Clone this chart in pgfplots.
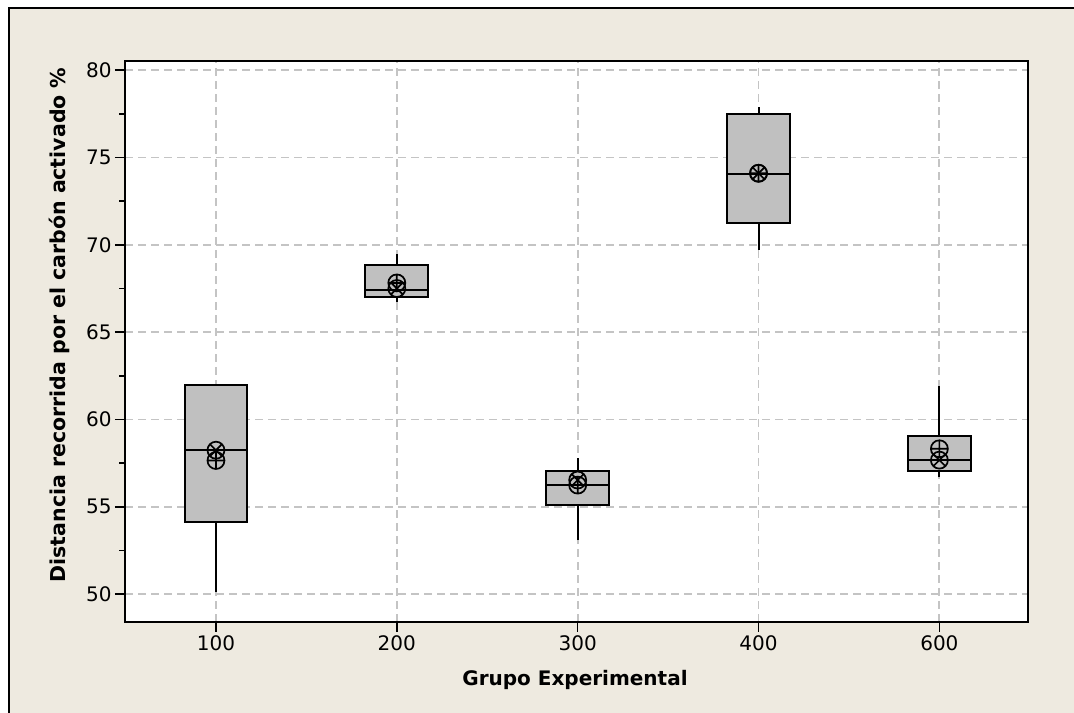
\documentclass[border=0pt]{standalone}
\usepackage{pgfplots}
\pgfplotsset{compat=1.18}
\usepackage{fontspec}
\setmainfont{DejaVu Sans}
\definecolor{bg}{RGB}{238,234,224}
\definecolor{boxgray}{RGB}{192,192,192}
\definecolor{gridgray}{RGB}{196,196,196}
\begin{document}
\begin{tikzpicture}
\useasboundingbox (0,0) rectangle (1074bp,713bp);
\fill[white] (0,0) rectangle (1074bp,713bp);
\draw[line width=2bp, fill=bg] (9bp,-20bp) rectangle (1090bp,705bp);
\begin{axis}[
  at={(125bp,91bp)}, anchor=south west,
  scale only axis, width=903bp, height=561bp,
  xmin=0.497, xmax=5.49, ymin=48.40, ymax=80.53,
  axis background/.style={fill=white},
  axis line style={line width=2bp},
  xtick={1,2,3,4,5}, xticklabels={100,200,300,400,600},
  ytick={50,55,60,65,70,75,80},
  minor ytick={52.5,57.5,62.5,67.5,72.5,77.5},
  tick pos=left, tick align=outside,
  major tick length=10bp, minor tick length=6bp,
  tick style={line width=1.5bp, black},
  grid=major,
  major grid style={gridgray, line width=1.8bp, dash pattern=on 8bp off 5bp},
  /pgf/number format/assume math mode=true,
  tick label style={font=\fontsize{20bp}{24bp}\selectfont},
  unbounded coords=jump,
]
% whiskers
\addplot[black, line width=2bp] coordinates {
 (1,50.13) (1,54.14) (1,nan) (1,61.96) (1,62.05) (1,nan)
 (2,66.74) (2,67.02) (2,nan) (2,68.87) (2,69.46) (2,nan)
 (3,53.09) (3,55.09) (3,nan) (3,57.04) (3,57.77) (3,nan)
 (4,69.73) (4,71.28) (4,nan) (4,77.48) (4,77.90) (4,nan)
 (5,56.72) (5,57.06) (5,nan) (5,59.04) (5,61.90)};
% boxes (Q1, Q3)
\addplot[fill=boxgray, draw=black, line width=2bp] coordinates {(0.826,54.14) (1.174,54.14) (1.174,61.96) (0.826,61.96)} -- cycle;
\addplot[fill=boxgray, draw=black, line width=2bp] coordinates {(1.826,67.02) (2.174,67.02) (2.174,68.87) (1.826,68.87)} -- cycle;
\addplot[fill=boxgray, draw=black, line width=2bp] coordinates {(2.826,55.09) (3.174,55.09) (3.174,57.04) (2.826,57.04)} -- cycle;
\addplot[fill=boxgray, draw=black, line width=2bp] coordinates {(3.826,71.28) (4.174,71.28) (4.174,77.48) (3.826,77.48)} -- cycle;
\addplot[fill=boxgray, draw=black, line width=2bp] coordinates {(4.826,57.06) (5.174,57.06) (5.174,59.04) (4.826,59.04)} -- cycle;
% medians
\addplot[black, line width=2bp] coordinates {
 (0.826,58.24) (1.174,58.24) (1,nan)
 (1.826,67.44) (2.174,67.44) (2,nan)
 (2.826,56.25) (3.174,56.25) (3,nan)
 (3.826,74.08) (4.174,74.08) (4,nan)
 (4.826,57.67) (5.174,57.67)};
\addplot[only marks, mark=otimes, mark size=8.5bp, line width=1.7bp, black] coordinates {(1,58.24) (2,67.50) (3,56.53) (4,74.10) (5,57.67)};
\addplot[only marks, mark=oplus, mark size=8.5bp, line width=1.7bp, black] coordinates {(1,57.65) (2,67.82) (3,56.24) (4,74.10) (5,58.32)};
\end{axis}
\node[anchor=base, font=\bfseries\fontsize{20bp}{24bp}\selectfont] at (575bp,28bp) {Grupo Experimental};
\node[anchor=base, rotate=90, font=\bfseries\fontsize{20.5bp}{24bp}\selectfont] at (65bp,388bp) {Distancia recorrida por el carbón activado \%};
\end{tikzpicture}
\end{document}
